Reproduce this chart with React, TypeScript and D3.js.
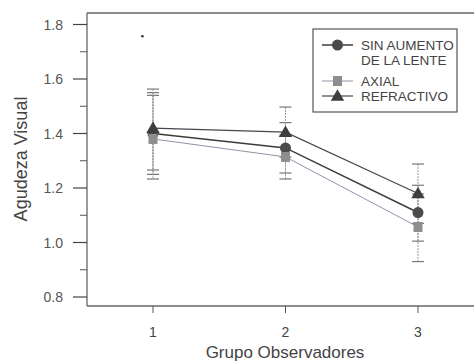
import React from "react";
import * as d3 from "d3";

const groups = [1, 2, 3];
const seriesNames = ["SIN AUMENTO|DE LA LENTE", "AXIAL", "REFRACTIVO"];
const sinAumento = [1.4, 1.347, 1.11];
const sinAumentoHi = [1.55, 1.44, 1.21];
const sinAumentoLo = [1.25, 1.255, 1.005];
const axial = [1.38, 1.314, 1.057];
const axialHi = [1.54, 1.395, 1.178];
const axialLo = [1.233, 1.233, 0.93];
const refractivo = [1.42, 1.405, 1.18];
const refractivoHi = [1.563, 1.497, 1.288];
const refractivoLo = [1.266, 1.313, 1.07];
const yTicks = [0.8, 1.0, 1.2, 1.4, 1.6, 1.8];
const yMinor = [0.9, 1.1, 1.3, 1.5, 1.7];
const speck = [{ x: 0.92, y: 1.757 }];

const W = 474, H = 363;
const left = 87, top = 13, bottom = 306;

export default function App() {
  const x = d3.scaleLinear().domain([1, 2]).range([153, 285.5]);
  const y = d3.scaleLinear().domain([0.8, 1.8]).range([297, 24.5]);
  const line = d3.line<number>().x((_, i) => x(groups[i])).y((d) => y(d));

  const series = [
    { name: seriesNames[0], v: sinAumento, hi: sinAumentoHi, lo: sinAumentoLo, color: "#3c3c3c", marker: "circle", fill: "#4a4a4a", width: 1.5 },
    { name: seriesNames[1], v: axial, hi: axialHi, lo: axialLo, color: "#9a8fa6", marker: "square", fill: "#8e8e8e", width: 1 },
    { name: seriesNames[2], v: refractivo, hi: refractivoHi, lo: refractivoLo, color: "#4a4450", marker: "triangle", fill: "#3e3e3e", width: 1.2 },
  ];

  const marker = (type: string, cx: number, cy: number, fill: string, key: string) => {
    if (type === "circle") return <circle key={key} cx={cx} cy={cy} r={5.5} fill={fill} />;
    if (type === "square") return <rect key={key} x={cx - 4.5} y={cy - 5} width={9} height={10} fill={fill} />;
    const p = d3.symbol(d3.symbolTriangle, 78)();
    return <path key={key} d={p || ""} transform={`translate(${cx},${cy + 1})`} fill={fill} />;
  };

  const font = "'Liberation Sans', Arial, sans-serif";

  return (
    <svg width={W} height={H} style={{ position: "absolute", left: 0, top: 0, background: "#fff" }}>
      <rect width={W} height={H} fill="#fff" />
      {/* frame */}
      <line x1={left} x2={W} y1={top} y2={top} stroke="#666" strokeWidth={1.3} />
      <line x1={left} x2={left} y1={top} y2={bottom} stroke="#666" strokeWidth={1.3} />
      <line x1={left} x2={W} y1={bottom} y2={bottom} stroke="#666" strokeWidth={1.3} />
      {/* y ticks */}
      {yTicks.map((t) => (
        <g key={"yt" + t}>
          <line x1={73} x2={left} y1={y(t)} y2={y(t)} stroke="#444" strokeWidth={1.2} />
          <text x={63} y={y(t) + 5} textAnchor="end" fontFamily={font} fontSize={14} fill="#555">
            {d3.format(".1f")(t)}
          </text>
        </g>
      ))}
      {yMinor.map((t) => (
        <line key={"ym" + t} x1={80} x2={left} y1={y(t)} y2={y(t)} stroke="#555" strokeWidth={1} />
      ))}
      {/* x ticks */}
      {groups.map((g) => (
        <g key={"xt" + g}>
          <line x1={x(g)} x2={x(g)} y1={bottom} y2={bottom + 7} stroke="#555" strokeWidth={1} />
          <text x={x(g)} y={337} textAnchor="middle" fontFamily={font} fontSize={14} fill="#444">
            {g}
          </text>
        </g>
      ))}
      <text x={285} y={358} textAnchor="middle" fontFamily={font} fontSize={17} fill="#444">
        Grupo Observadores
      </text>
      <text transform="translate(27,159) rotate(-90)" textAnchor="middle" fontFamily={font} fontSize={18} fill="#444">
        Agudeza Visual
      </text>
      {/* speck */}
      {speck.map((s, i) => (
        <circle key={"sp" + i} cx={x(s.x)} cy={y(s.y)} r={1.3} fill="#333" />
      ))}
      {/* error bars */}
      {series.map((s, si) =>
        groups.map((g, i) => (
          <g key={`eb${si}-${i}`}>
            <line x1={x(g)} x2={x(g)} y1={y(s.hi[i])} y2={y(s.lo[i])} stroke="#999" strokeWidth={1} strokeDasharray="2,1" />
            <line x1={x(g) - 6} x2={x(g) + 6} y1={y(s.hi[i])} y2={y(s.hi[i])} stroke="#777" strokeWidth={1.2} />
            <line x1={x(g) - 6} x2={x(g) + 6} y1={y(s.lo[i])} y2={y(s.lo[i])} stroke="#777" strokeWidth={1.2} />
          </g>
        ))
      )}
      {/* lines */}
      {series.map((s, si) => (
        <path key={"ln" + si} d={line(s.v) || ""} fill="none" stroke={s.color} strokeWidth={s.width} />
      ))}
      {series.map((s, si) => groups.map((g, i) => marker(s.marker, x(g), y(s.v[i]), s.fill, `m${si}-${i}`)))}
      {/* legend */}
      <rect x={313} y={29} width={144} height={83} fill="#fff" stroke="#555" strokeWidth={1.2} />
      {series.map((s, si) => {
        const ly = [45, 81, 96][si];
        const lines = s.name.split("|");
        return (
          <g key={"lg" + si}>
            <line x1={322} x2={353} y1={ly} y2={ly} stroke={s.color} strokeWidth={s.width} />
            {marker(s.marker, 337.5, ly, s.fill, "lm" + si)}
            {lines.map((t, k) => (
              <text key={k} x={361} y={ly + 5 + k * 15} fontFamily={font} fontSize={13.5} fill="#444">
                {t}
              </text>
            ))}
          </g>
        );
      })}
    </svg>
  );
}
